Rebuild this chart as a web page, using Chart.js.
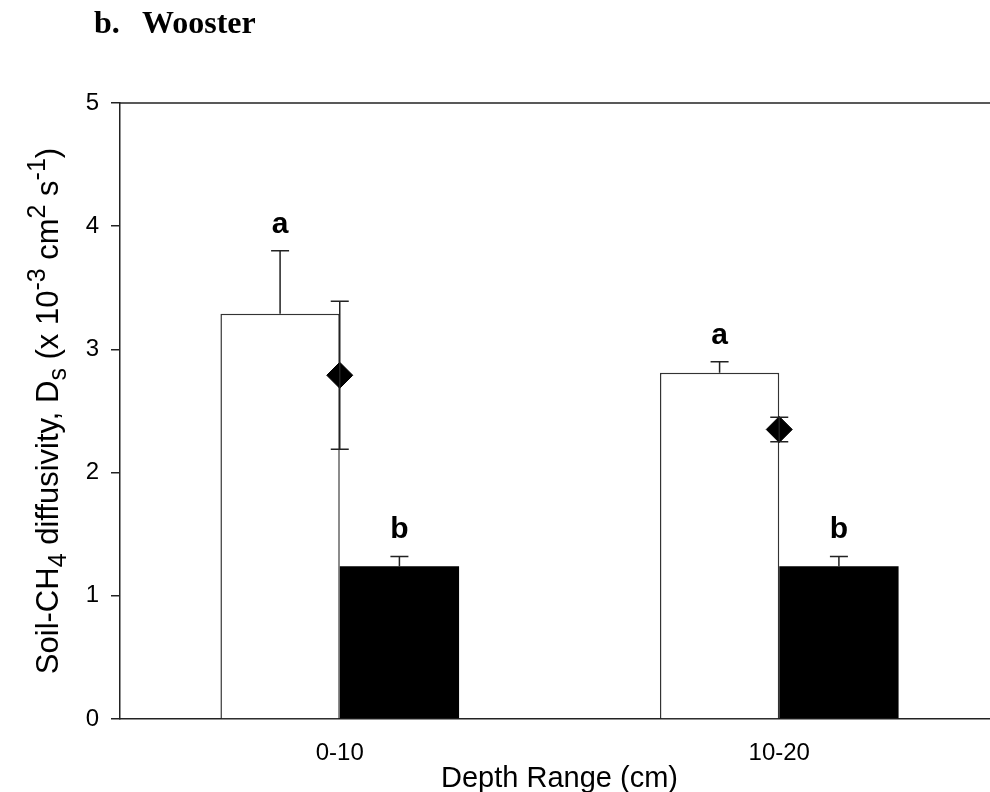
<!DOCTYPE html>
<html>
<head>
<meta charset="utf-8">
<script src="https://cdn.jsdelivr.net/npm/chart.js@4"></script>
<style>
  html, body { margin: 0; padding: 0; background: #fff; width: 990px; height: 792px; overflow: hidden; }
  #heading { position: absolute; left: 0; top: 6px; font: bold 32px "Liberation Serif", "Times New Roman", serif; line-height: 32px; color: #000; }
  #heading span { position: absolute; white-space: nowrap; }
  #wrap { position: absolute; left: 0; top: 0; }
</style>
</head>
<body>
<div id="wrap"><canvas id="soilChart" width="1013" height="800"></canvas></div>
<div id="heading"><span style="left:94px">b.</span><span style="left:142px">Wooster</span></div>
<script>
const depthRanges = ['0-10', '10-20'];

const openMeans = [3.29, 2.81];
const openErrors = [0.51, 0.09];
const openLetters = ['a', 'a'];

const filledMeans = [1.24, 1.24];
const filledErrors = [0.08, 0.08];
const filledLetters = ['b', 'b'];

const diamondMeans = [2.79, 2.35];
const diamondErrors = [0.60, 0.10];

const yMin = 0;
const yMax = 5;
const yStep = 1;

const FONT = '"Liberation Sans", Arial, sans-serif';
const INK = '#222';

// error bars: bars get an upper whisker only, the diamond gets both
const errorBars = {
    id: 'errorBars',
    afterDatasetsDraw(chart) {
        const ctx = chart.ctx;
        const y = chart.scales.y;
        ctx.save();
        ctx.strokeStyle = INK;
        ctx.lineWidth = 1.5;
        chart.data.datasets.forEach((ds, i) => {
            if (!ds.errors) return;
            chart.getDatasetMeta(i).data.forEach((el, j) => {
                const v = ds.data[j];
                const top = y.getPixelForValue(v + ds.errors[j]);
                const bot = ds.twoSided ? y.getPixelForValue(v - ds.errors[j]) : y.getPixelForValue(v);
                ctx.beginPath();
                ctx.moveTo(el.x, top);
                ctx.lineTo(el.x, bot);
                ctx.moveTo(el.x - 9, top);
                ctx.lineTo(el.x + 9, top);
                if (ds.twoSided) {
                    ctx.moveTo(el.x - 9, bot);
                    ctx.lineTo(el.x + 9, bot);
                }
                ctx.stroke();
            });
        });
        ctx.restore();
    }
};

// significance letters sit just above each whisker cap
const sigLetters = {
    id: 'sigLetters',
    afterDatasetsDraw(chart) {
        const ctx = chart.ctx;
        const y = chart.scales.y;
        ctx.save();
        ctx.fillStyle = '#000';
        ctx.font = 'bold 30px ' + FONT;
        ctx.textAlign = 'center';
        ctx.textBaseline = 'alphabetic';
        chart.data.datasets.forEach((ds, i) => {
            if (!ds.letters) return;
            chart.getDatasetMeta(i).data.forEach((el, j) => {
                const top = y.getPixelForValue(ds.data[j] + ds.errors[j]);
                ctx.fillText(ds.letters[j], el.x, top - 18);
            });
        });
        ctx.restore();
    }
};

// top edge of the plot frame
const topFrame = {
    id: 'topFrame',
    afterDraw(chart) {
        const a = chart.chartArea;
        const ctx = chart.ctx;
        ctx.save();
        ctx.strokeStyle = INK;
        ctx.lineWidth = 1.5;
        ctx.beginPath();
        ctx.moveTo(a.left, a.top);
        ctx.lineTo(a.right, a.top);
        ctx.stroke();
        ctx.restore();
    }
};

// y title with sub- and superscripts, rotated up the left side
const yTitleParts = [
    ['Soil-CH', 0], ['4', -1], [' diffusivity, D', 0], ['s', -1], [' (x 10', 0],
    ['-3', 1], [' cm', 0], ['2', 1], [' s', 0], ['-1', 1], [')', 0]
];
const yTitle = {
    id: 'yTitle',
    afterDraw(chart) {
        const a = chart.chartArea;
        const ctx = chart.ctx;
        const big = '31px ' + FONT;
        const small = '25px ' + FONT;
        ctx.save();
        ctx.fillStyle = '#000';
        ctx.textBaseline = 'alphabetic';
        let total = 0;
        yTitleParts.forEach(p => {
            ctx.font = p[1] ? small : big;
            total += ctx.measureText(p[0]).width;
        });
        ctx.translate(58, (a.top + a.bottom) / 2);
        ctx.rotate(-Math.PI / 2);
        let x = -total / 2;
        yTitleParts.forEach(p => {
            ctx.font = p[1] ? small : big;
            const shift = p[1] === -1 ? 8 : (p[1] === 1 ? -13 : 0);
            ctx.fillText(p[0], x, shift);
            x += ctx.measureText(p[0]).width;
        });
        ctx.restore();
    }
};

new Chart(document.getElementById('soilChart'), {
    type: 'bar',
    data: {
        labels: depthRanges,
        datasets: [
            {
                label: 'Open',
                data: openMeans,
                errors: openErrors,
                letters: openLetters,
                backgroundColor: '#fff',
                borderColor: '#333',
                borderWidth: 1.5,
                borderSkipped: 'bottom',
                order: 2
            },
            {
                label: 'Filled',
                data: filledMeans,
                errors: filledErrors,
                letters: filledLetters,
                backgroundColor: '#000',
                borderWidth: 0,
                order: 2
            },
            {
                type: 'line',
                label: 'Mean',
                data: diamondMeans,
                errors: diamondErrors,
                twoSided: true,
                showLine: false,
                pointStyle: 'rectRot',
                pointRadius: 13,
                pointHoverRadius: 13,
                backgroundColor: '#000',
                borderColor: '#000',
                order: 1
            }
        ]
    },
    options: {
        responsive: false,
        animation: false,
        events: [],
        layout: { padding: { left: 60, top: 103, right: 0, bottom: 0 } },
        datasets: { bar: { categoryPercentage: 0.543, barPercentage: 1 } },
        plugins: { legend: { display: false }, tooltip: { enabled: false } },
        scales: {
            x: {
                grid: { display: false, drawTicks: false },
                border: { display: true, color: INK, width: 1.5 },
                ticks: { color: '#000', font: { family: FONT, size: 24 }, padding: 20 },
                title: {
                    display: true,
                    text: 'Depth Range (cm)',
                    color: '#000',
                    font: { family: FONT, size: 29 },
                    padding: { top: 0, bottom: 4 }
                },
                afterFit(scale) { scale.height = 81; }
            },
            y: {
                min: yMin,
                max: yMax,
                ticks: { stepSize: yStep, color: '#000', font: { family: FONT, size: 24 }, padding: 12 },
                grid: { drawOnChartArea: false, drawTicks: true, tickLength: 9, color: INK, lineWidth: 1.5 },
                border: { display: true, color: INK, width: 1.5 },
                afterFit(scale) { scale.width = 60; }
            }
        }
    },
    plugins: [errorBars, sigLetters, topFrame, yTitle]
});
</script>
</body>
</html>
